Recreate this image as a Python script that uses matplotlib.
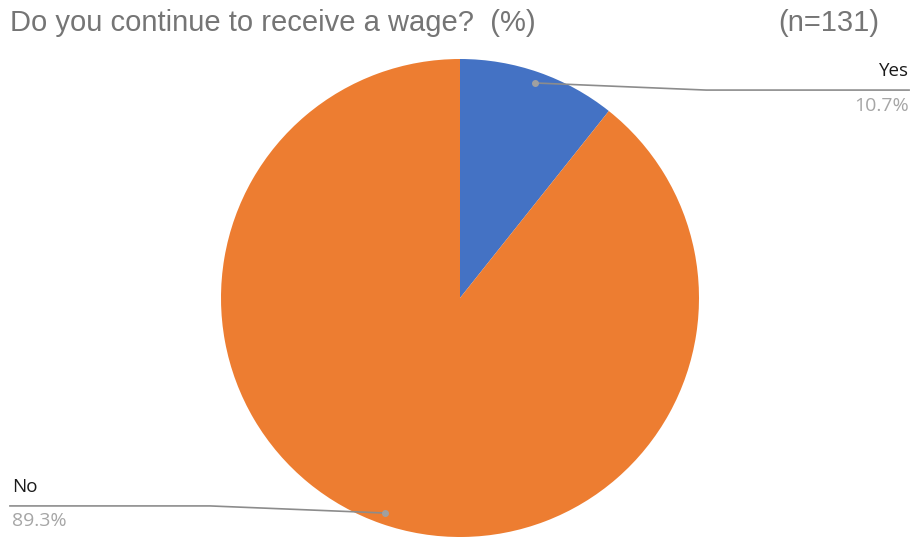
import matplotlib.pyplot as plt
import numpy as np

labels = ['Yes', 'No']
values = [10.7, 89.3]
colors = ['#4472C4', '#ED7D31']
pcts = ['10.7%', '89.3%']

fig = plt.figure(figsize=(9.14, 5.37), dpi=100)
# pie centre ~ (460, 298) px, radius ~239 px
ax = fig.add_axes([221/914, 0.0, 478/914, 478/537])
ax.pie(values, colors=colors, startangle=90, counterclock=False, radius=1,
       wedgeprops=dict(linewidth=0))
ax.set_xlim(-1, 1)
ax.set_ylim(-1, 1)
ax.set_aspect('equal')
ax.axis('off')

# leader lines (from wedge middle to label)
angles = []
start = 90
for v in values:
    sweep = v / sum(values) * 360
    angles.append(np.deg2rad(start - sweep / 2))
    start -= sweep

elbow = [(1.03, 0.87), (-1.046, -0.87)]
ends = [1.879, -1.883]
for i, a in enumerate(angles):
    px, py = 0.953 * np.cos(a), 0.953 * np.sin(a)
    ex, ey = elbow[i]
    ax.plot([px, ex, ends[i]], [py, ey, ey], color='#8c8c8c', lw=1.2, clip_on=False)
    ax.plot(px, py, 'o', color='#a0a0a0', ms=4, clip_on=False)
    ha = 'right' if ends[i] > 0 else 'left'
    tx = ends[i] if ends[i] > 0 else ends[i] + 0.007
    ax.text(tx, ey + 0.058, labels[i], ha=ha, va='baseline', fontsize=13.5,
            family='Open Sans', color='#1a1a1a', clip_on=False)
    ax.text(tx, ey - 0.086, pcts[i], ha=ha, va='baseline', fontsize=14,
            family='Open Sans', color='#a6a6a6', clip_on=False)

fig.text(10/914, 1 - 23/537, 'Do you continue to receive a wage?  (%)', ha='left', va='center',
         fontsize=21, family='Liberation Sans', color='#757575')
fig.text(879/914, 1 - 23/537, '(n=131)', ha='right', va='center',
         fontsize=21, family='Liberation Sans', color='#757575')

fig.savefig('out.png', dpi=100)
